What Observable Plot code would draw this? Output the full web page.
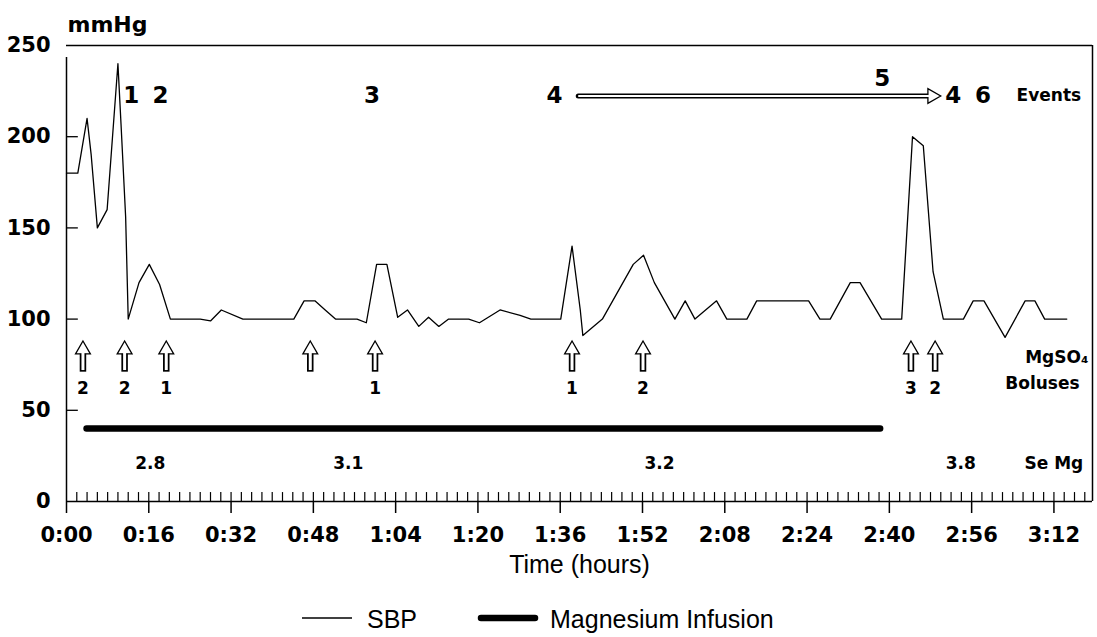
<!DOCTYPE html>
<html>
<head>
<meta charset="utf-8">
<script src="https://cdn.jsdelivr.net/npm/d3@7"></script>
<script src="https://cdn.jsdelivr.net/npm/@observablehq/plot@0.6"></script>
<style>
  html, body { margin: 0; padding: 0; background: white; overflow: hidden; }
  #chart svg { display: block; }
</style>
</head>
<body>
<div id="chart"></div>
<div id="legend"></div>
<script>
// ---- Data (minutes from start, mmHg) ----
const sbpTime  = [0, 2.2, 4.0, 4.8, 6.0, 7.9, 10.0, 10.6, 11.5, 12.0, 14.1, 16.1, 18.1, 20.2, 26.0, 28.0, 30.1, 34.3, 44.2, 46.2, 48.3, 50.3, 52.3, 56.5, 58.3, 60.3, 62.3, 64.4, 66.3, 68.5, 70.4, 72.4, 74.3, 78.2, 80.3, 84.3, 88.2, 90.3, 96.1, 98.3, 99.9, 100.4, 104.2, 110.2, 112.2, 114.3, 118.3, 120.3, 122.2, 126.4, 128.4, 132.3, 134.2, 144.3, 146.5, 148.5, 152.4, 154.3, 158.5, 162.4, 164.5, 166.6, 168.5, 170.5, 174.4, 176.3, 178.4, 182.5, 186.4, 188.3, 190.2, 194.5];
const sbpValue = [180, 180, 210, 190, 150, 160, 240, 207, 156, 100, 120, 130, 119, 100, 100, 99, 105, 100, 100, 110, 110, 105, 100, 100, 98, 130, 130, 101, 105, 96, 101, 96, 100, 100, 98, 105, 102, 100, 100, 140, 105, 91, 100, 130, 135, 120, 100, 110, 100, 110, 100, 100, 110, 110, 100, 100, 120, 120, 100, 100, 200, 195, 126, 100, 100, 110, 110, 90, 110, 110, 100, 100];

// Magnesium infusion (start, end in minutes) drawn at level 40
const infusionStart = [4.0];
const infusionEnd   = [158.3];
const infusionLevel = [40];

// MgSO4 boluses
const bolusTime = [3.2, 11.3, 19.4, 47.4, 60.0, 98.3, 112.1, 164.2, 168.9];
const bolusDose = ["2", "2", "1", "", "1", "1", "2", "3", "2"];

// Events
const eventLabel = ["1", "2", "3", "4", "5", "4", "6"];
const eventTime  = [12.6, 18.3, 59.4, 94.9, 158.6, 172.4, 178.2];
const eventLevel = [222.6, 222.6, 222.6, 222.6, 231.7, 222.6, 222.6];
const eventSpanFrom = [99.6];
const eventSpanTo   = [170.0];
const eventSpanLevel = [222.3];

// Serum Mg
const seMgLabel = ["2.8", "3.1", "3.2", "3.8"];
const seMgTime  = [16.3, 54.8, 115.3, 173.9];
const seMgLevel = 21;

// Row labels at the right
const rowLabel = ["Events", "MgSO\u2084", "Boluses", "Se Mg"];
const rowTime  = [197.3, 198.7, 197.0, 197.7];
const rowLevel = [222.6, 79, 64.4, 21];

// Axes
const yTicks = [0, 50, 100, 150, 200, 250];
const xTickMinutes = [0, 16, 32, 48, 64, 80, 96, 112, 128, 144, 160, 176, 192];
const xTickLabels  = ["0:00", "0:16", "0:32", "0:48", "1:04", "1:20", "1:36", "1:52", "2:08", "2:24", "2:40", "2:56", "3:12"];
const minorTicks = d3.range(2, 199, 2);
const xMax = 199.5;

// ---- Build tables ----
const sbp = sbpTime.map((t, i) => ({t, v: sbpValue[i]}));
const infusion = infusionStart.map((s, i) => ({s, e: infusionEnd[i], level: infusionLevel[i]}));
const boluses = bolusTime.map((t, i) => ({t, dose: bolusDose[i]}));
const events = eventLabel.map((label, i) => ({label, t: eventTime[i], level: eventLevel[i]}));
const eventSpan = eventSpanFrom.map((f, i) => ({from: f, to: eventSpanTo[i], level: eventSpanLevel[i]}));
const seMg = seMgLabel.map((label, i) => ({label, t: seMgTime[i], level: seMgLevel}));
const rows = rowLabel.map((label, i) => ({label, t: rowTime[i], level: rowLevel[i]}));

const bolusTip = 88, bolusBottom = 70.9;

const chart = Plot.plot({
  width: 1097,
  height: 595,
  marginTop: 45,
  marginBottom: 94,
  marginLeft: 66,
  marginRight: 5,
  style: {fontFamily: "DejaVu Sans", fontSize: "21px", fontWeight: "bold", color: "black", background: "white"},
  x: {domain: [0, xMax]},
  y: {domain: [0, 250]},
  marks: [
    // frame
    Plot.ruleY([250], {stroke: "black", strokeWidth: 1.5}),
    Plot.ruleY([0], {stroke: "black", strokeWidth: 1.5}),
    Plot.ruleX([0], {y1: 0, y2: 250, insetBottom: -12, stroke: "black", strokeWidth: 1.5}),
    Plot.ruleX([xMax], {y1: 0, y2: 250, stroke: "black", strokeWidth: 1.5}),
    // minor x ticks (above the axis line)
    Plot.ruleX(minorTicks, {y1: 0, y2: 4.9, stroke: "black", strokeWidth: 1.2}),
    // inner y ticks
    Plot.ruleY(yTicks.filter(d => d > 0 && d < 250), {x1: 0, x2: 2.3, stroke: "black", strokeWidth: 1.3}),
    Plot.axisY({ticks: yTicks, tickSize: 0, tickPadding: 16, label: null, tickFormat: d => String(d)}),
    Plot.axisX({ticks: xTickMinutes, tickSize: 12, tickPadding: 14, label: null, strokeWidth: 1.5,
      tickFormat: d => xTickLabels[xTickMinutes.indexOf(d)]}),
    Plot.text(["mmHg"], {text: d => d, frameAnchor: "top-left", textAnchor: "start", lineAnchor: "middle", dx: 1, dy: -21, fontSize: 22}),
    Plot.text(["Time (hours)"], {text: d => d, frameAnchor: "bottom", lineAnchor: "top", dy: 54,
      fontFamily: "Liberation Sans", fontWeight: "normal", fontSize: 25}),

    // SBP
    Plot.line(sbp, {x: "t", y: "v", stroke: "black", strokeWidth: 1.3}),

    // Magnesium infusion
    Plot.ruleY(infusion, {y: "level", x1: "s", x2: "e", stroke: "black", strokeWidth: 6.5, strokeLinecap: "round"}),

    // Bolus arrows (hollow)
    Plot.ruleX(boluses, {x: "t", y1: bolusBottom, y2: bolusTip - 4, stroke: "black", strokeWidth: 6.5}),
    Plot.dot(boluses, {x: "t", y: bolusTip, symbol: "triangle", r: 5.5, dy: 8.6, fill: "white", stroke: "black", strokeWidth: 1.3}),
    Plot.ruleX(boluses, {x: "t", y1: bolusBottom + 0.9, y2: bolusTip - 5, stroke: "white", strokeWidth: 3}),
    Plot.text(boluses.filter(d => d.dose), {x: "t", y: 62, text: "dose", fontSize: 17, lineAnchor: "middle"}),

    // Events span arrow (hollow)
    Plot.ruleY(eventSpan, {y: "level", x1: "from", x2: d => d.to - 2, stroke: "black", strokeWidth: 5, strokeLinecap: "round"}),
    Plot.dot(eventSpan, {x: "to", y: "level", symbol: "triangle", rotate: 90, r: 5.5, dx: -8.6, fill: "white", stroke: "black", strokeWidth: 1.3}),
    Plot.ruleY(eventSpan, {y: "level", x1: "from", x2: d => d.to - 2.2, stroke: "white", strokeWidth: 2}),
    Plot.text(events, {x: "t", y: "level", text: "label", fontSize: 23, lineAnchor: "middle"}),

    // Serum Mg
    Plot.text(seMg, {x: "t", y: "level", text: "label", fontSize: 17, lineAnchor: "middle"}),

    // Row labels
    Plot.text(rows, {x: "t", y: "level", text: "label", fontSize: 17, textAnchor: "end", lineAnchor: "middle"})
  ]
});
document.getElementById("chart").appendChild(chart);

// ---- Legend (below the SVG) ----
const legendItems = [
  {label: "SBP", width: 1.5, cap: "butt", x1: 302, x2: 352, tx: 367},
  {label: "Magnesium Infusion", width: 6.5, cap: "round", x1: 481, x2: 535, tx: 550}
];
const lg = d3.select("#legend").append("svg").attr("width", 1097).attr("height", 42).style("display", "block");
for (const it of legendItems) {
  lg.append("line").attr("x1", it.x1).attr("x2", it.x2).attr("y1", 23).attr("y2", 23)
    .attr("stroke", "black").attr("stroke-width", it.width).attr("stroke-linecap", it.cap);
  lg.append("text").attr("x", it.tx).attr("y", 33).attr("font-family", "Liberation Sans")
    .attr("font-size", 25).text(it.label);
}
</script>
</body>
</html>
